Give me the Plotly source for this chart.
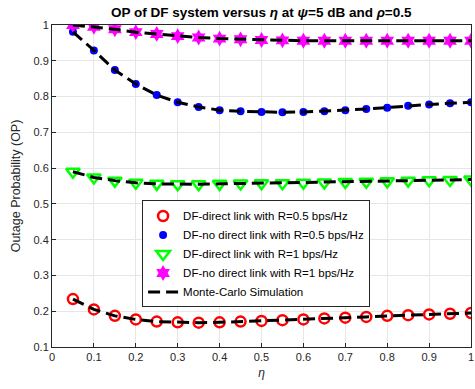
import plotly.graph_objects as go

eta = [0.05, 0.10, 0.15, 0.20, 0.25, 0.30, 0.35, 0.40, 0.45, 0.50,
       0.55, 0.60, 0.65, 0.70, 0.75, 0.80, 0.85, 0.90, 0.95, 1.00]

op_direct_r05 = [0.234, 0.205, 0.187, 0.177, 0.171, 0.169, 0.168, 0.169, 0.171, 0.173,
                 0.175, 0.177, 0.180, 0.182, 0.184, 0.187, 0.189, 0.191, 0.193, 0.195]
op_nodirect_r05 = [0.981, 0.929, 0.874, 0.835, 0.804, 0.784, 0.771, 0.762, 0.759, 0.757,
                   0.756, 0.757, 0.759, 0.762, 0.765, 0.769, 0.774, 0.778, 0.781, 0.784]
op_direct_r1 = [0.590, 0.574, 0.565, 0.559, 0.556, 0.555, 0.555, 0.556, 0.557, 0.558,
                0.558, 0.559, 0.560, 0.561, 0.562, 0.563, 0.565, 0.566, 0.567, 0.568]
op_nodirect_r1 = [1.000, 0.995, 0.988, 0.980, 0.975, 0.969, 0.965, 0.962, 0.960, 0.958,
                  0.957, 0.956, 0.956, 0.956, 0.956, 0.956, 0.956, 0.956, 0.956, 0.956]

x_ticks = [0, 0.1, 0.2, 0.3, 0.4, 0.5, 0.6, 0.7, 0.8, 0.9, 1]
x_labels = ["0", "0.1", "0.2", "0.3", "0.4", "0.5", "0.6", "0.7", "0.8", "0.9", "1"]
y_ticks = [0.1, 0.2, 0.3, 0.4, 0.5, 0.6, 0.7, 0.8, 0.9, 1]
y_labels = ["0.1", "0.2", "0.3", "0.4", "0.5", "0.6", "0.7", "0.8", "0.9", "1"]

names = ["DF-direct link with R=0.5 bps/Hz",
         "DF-no direct link with R=0.5 bps/Hz",
         "DF-direct link with R=1 bps/Hz",
         "DF-no direct link with R=1 bps/Hz"]

fig = go.Figure()

fig.add_trace(go.Scatter(x=eta, y=op_direct_r05, mode="markers", name=names[0],
                         marker=dict(symbol="circle-open", size=10, color="#ff0000",
                                     line=dict(width=2.5, color="#ff0000"))))
fig.add_trace(go.Scatter(x=eta, y=op_nodirect_r05, mode="markers", name=names[1],
                         marker=dict(symbol="circle", size=8, color="#0000ff",
                                     line=dict(width=0))))
fig.add_trace(go.Scatter(x=eta, y=op_direct_r1, mode="markers", name=names[2],
                         marker=dict(symbol="triangle-down-open", size=12, color="#00ff00",
                                     line=dict(width=2.5, color="#00ff00"))))
fig.add_trace(go.Scatter(x=eta, y=op_nodirect_r1, mode="markers", name=names[3],
                         marker=dict(symbol="hexagram", size=12, color="#ff00ff",
                                     line=dict(width=0))))

for i, ys in enumerate([op_direct_r05, op_nodirect_r05, op_direct_r1, op_nodirect_r1]):
    fig.add_trace(go.Scatter(x=eta, y=ys, mode="lines", name="Monte-Carlo Simulation",
                             showlegend=(i == 0), legendgroup="mc",
                             line=dict(color="black", width=3, dash="12px,6px")))

axis_common = dict(showgrid=True, gridcolor="#e6e6e6", gridwidth=1,
                   showline=True, linecolor="#262626", linewidth=1, mirror=True,
                   ticks="inside", ticklen=4, tickcolor="#262626",
                   tickfont=dict(size=11, color="#262626"), zeroline=False,
                   automargin=False)

fig.update_xaxes(range=[0, 1], tickvals=x_ticks, ticktext=x_labels,
                 title=dict(text="<i>η</i>", font=dict(size=12, color="#262626"), standoff=6),
                 **axis_common)
fig.update_yaxes(range=[0.1, 1], tickvals=y_ticks, ticktext=y_labels,
                 title=dict(text="Outage Probability (OP)", font=dict(size=12.5, color="#262626"), standoff=10),
                 **axis_common)

fig.update_layout(
    width=475, height=389,
    margin=dict(l=52, r=4, t=25, b=42),
    paper_bgcolor="white", plot_bgcolor="white",
    font=dict(family="Liberation Sans, Arial, sans-serif", color="#262626"),
    title=dict(text="<b>OP of DF system versus <i>η</i> at <i>ψ</i>=5 dB and <i>ρ</i>=0.5</b>",
               x=0.55, xanchor="center", y=0.98, yanchor="top",
               font=dict(size=13.5, color="black")),
    legend=dict(x=0.215, y=0.455, xanchor="left", yanchor="top",
                bgcolor="white", bordercolor="#262626", borderwidth=1,
                font=dict(size=11.5, color="black"), tracegroupgap=0,
                itemwidth=30),
    showlegend=True,
)

fig.write_html("out.html")
